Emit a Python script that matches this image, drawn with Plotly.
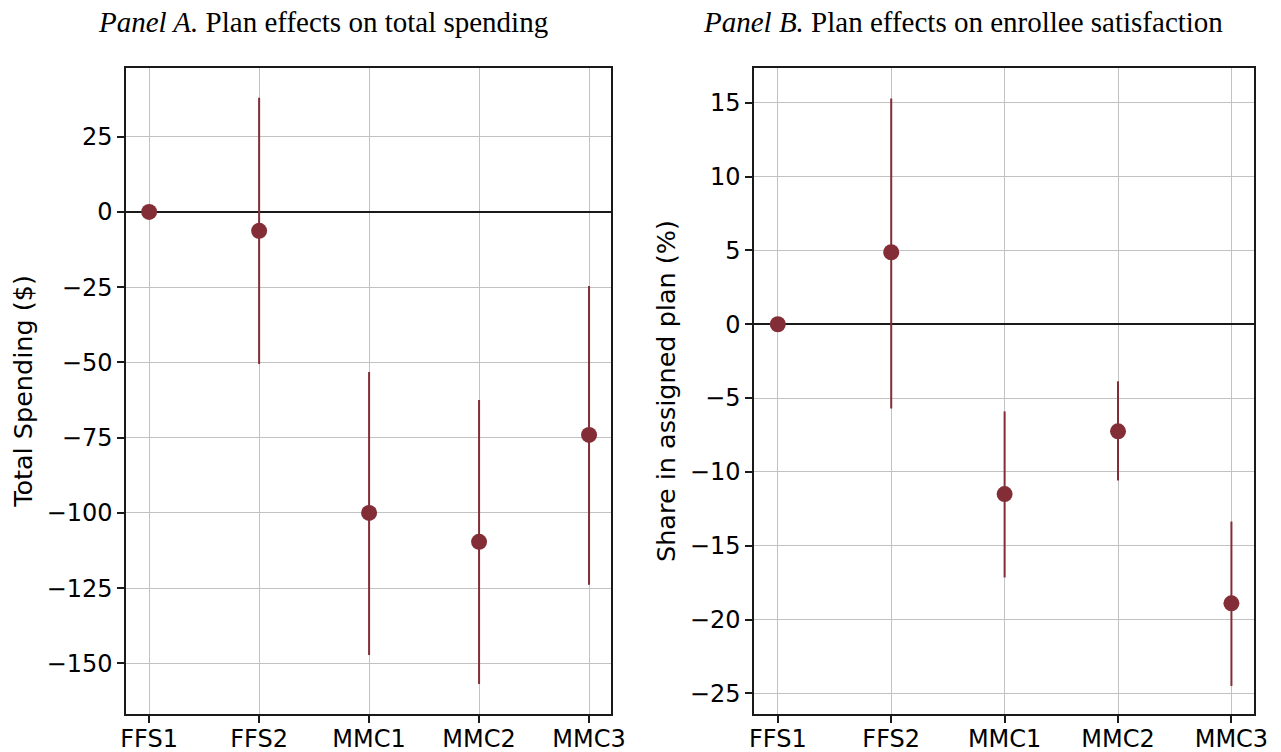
import plotly.graph_objects as go
from plotly.subplots import make_subplots

plans = ["FFS1", "FFS2", "MMC1", "MMC2", "MMC3"]

spend_est = [0, -6.3, -100, -109.6, -74.1]
spend_lo = [0, -50.5, -147.2, -156.8, -123.9]
spend_hi = [0, 37.9, -53.2, -62.5, -24.6]

sat_est = [0, 4.88, -11.5, -7.25, -18.9]
sat_lo = [0, -5.7, -17.15, -10.58, -24.5]
sat_hi = [0, 15.3, -5.9, -3.86, -13.36]

spend_ticks = [25, 0, -25, -50, -75, -100, -125, -150]
sat_ticks = [15, 10, 5, 0, -5, -10, -15, -20, -25]

color = "#832d36"
xs = list(range(len(plans)))

fig = make_subplots(rows=1, cols=2)

def add_panel(est, lo, hi, col):
    fig.add_trace(go.Scatter(
        x=xs, y=est, mode="markers",
        marker=dict(color=color, size=16, line=dict(width=0)),
        error_y=dict(type="data", symmetric=False,
                     array=[h - e for h, e in zip(hi, est)],
                     arrayminus=[e - l for e, l in zip(est, lo)],
                     color=color, thickness=2, width=0),
        showlegend=False), row=1, col=col)

add_panel(spend_est, spend_lo, spend_hi, 1)
add_panel(sat_est, sat_lo, sat_hi, 2)

tickfont = dict(family="DejaVu Sans", size=24, color="black")
titlefont_ax = dict(family="DejaVu Sans", size=25.5, color="black")
axis_common = dict(showline=True, linecolor="#1a1a1a", linewidth=1.5, mirror=True,
                   ticks="outside", ticklen=7, tickwidth=1.5, tickcolor="#1a1a1a",
                   showgrid=True, gridcolor="#c2c2c2", gridwidth=1.2,
                   tickfont=tickfont, automargin=False)

fig.update_xaxes(**axis_common, tickvals=xs, ticktext=plans, range=[-0.21, 4.2],
                 zeroline=False, ticklabelstandoff=-5)
fig.update_xaxes(domain=[0.0984, 0.477], row=1, col=1)
fig.update_xaxes(domain=[0.5886, 0.979], row=1, col=2)

fig.update_yaxes(**axis_common, zeroline=True, zerolinecolor="#1a1a1a", zerolinewidth=1.5,
                 domain=[0.0505, 0.9096])
fig.update_yaxes(range=[-166.8, 47.8], tickvals=spend_ticks,
                 title=dict(text="Total Spending ($)", font=titlefont_ax, standoff=7),
                 row=1, col=1)
fig.update_yaxes(range=[-26.4, 17.36], tickvals=sat_ticks,
                 title=dict(text="Share in assigned plan (%)", font=titlefont_ax, standoff=7),
                 row=1, col=2)

titlefont = dict(family="Liberation Serif", size=29, color="black")
fig.add_annotation(x=0.2518, y=1 - 22 / 752, xref="paper", yref="paper",
                   text="<i>Panel A.</i> Plan effects on total spending",
                   showarrow=False, font=titlefont, xanchor="center", yanchor="middle")
fig.add_annotation(x=0.7518, y=1 - 22 / 752, xref="paper", yref="paper",
                   text="<i>Panel B.</i> Plan effects on enrollee satisfaction",
                   showarrow=False, font=titlefont, xanchor="center", yanchor="middle")

fig.update_layout(width=1281, height=752, margin=dict(l=0, r=0, t=0, b=0),
                  plot_bgcolor="white", paper_bgcolor="white")

fig.write_html("out.html", config={"displayModeBar": False},
               post_script="document.body.style.margin='0';document.body.style.overflow='hidden';")
